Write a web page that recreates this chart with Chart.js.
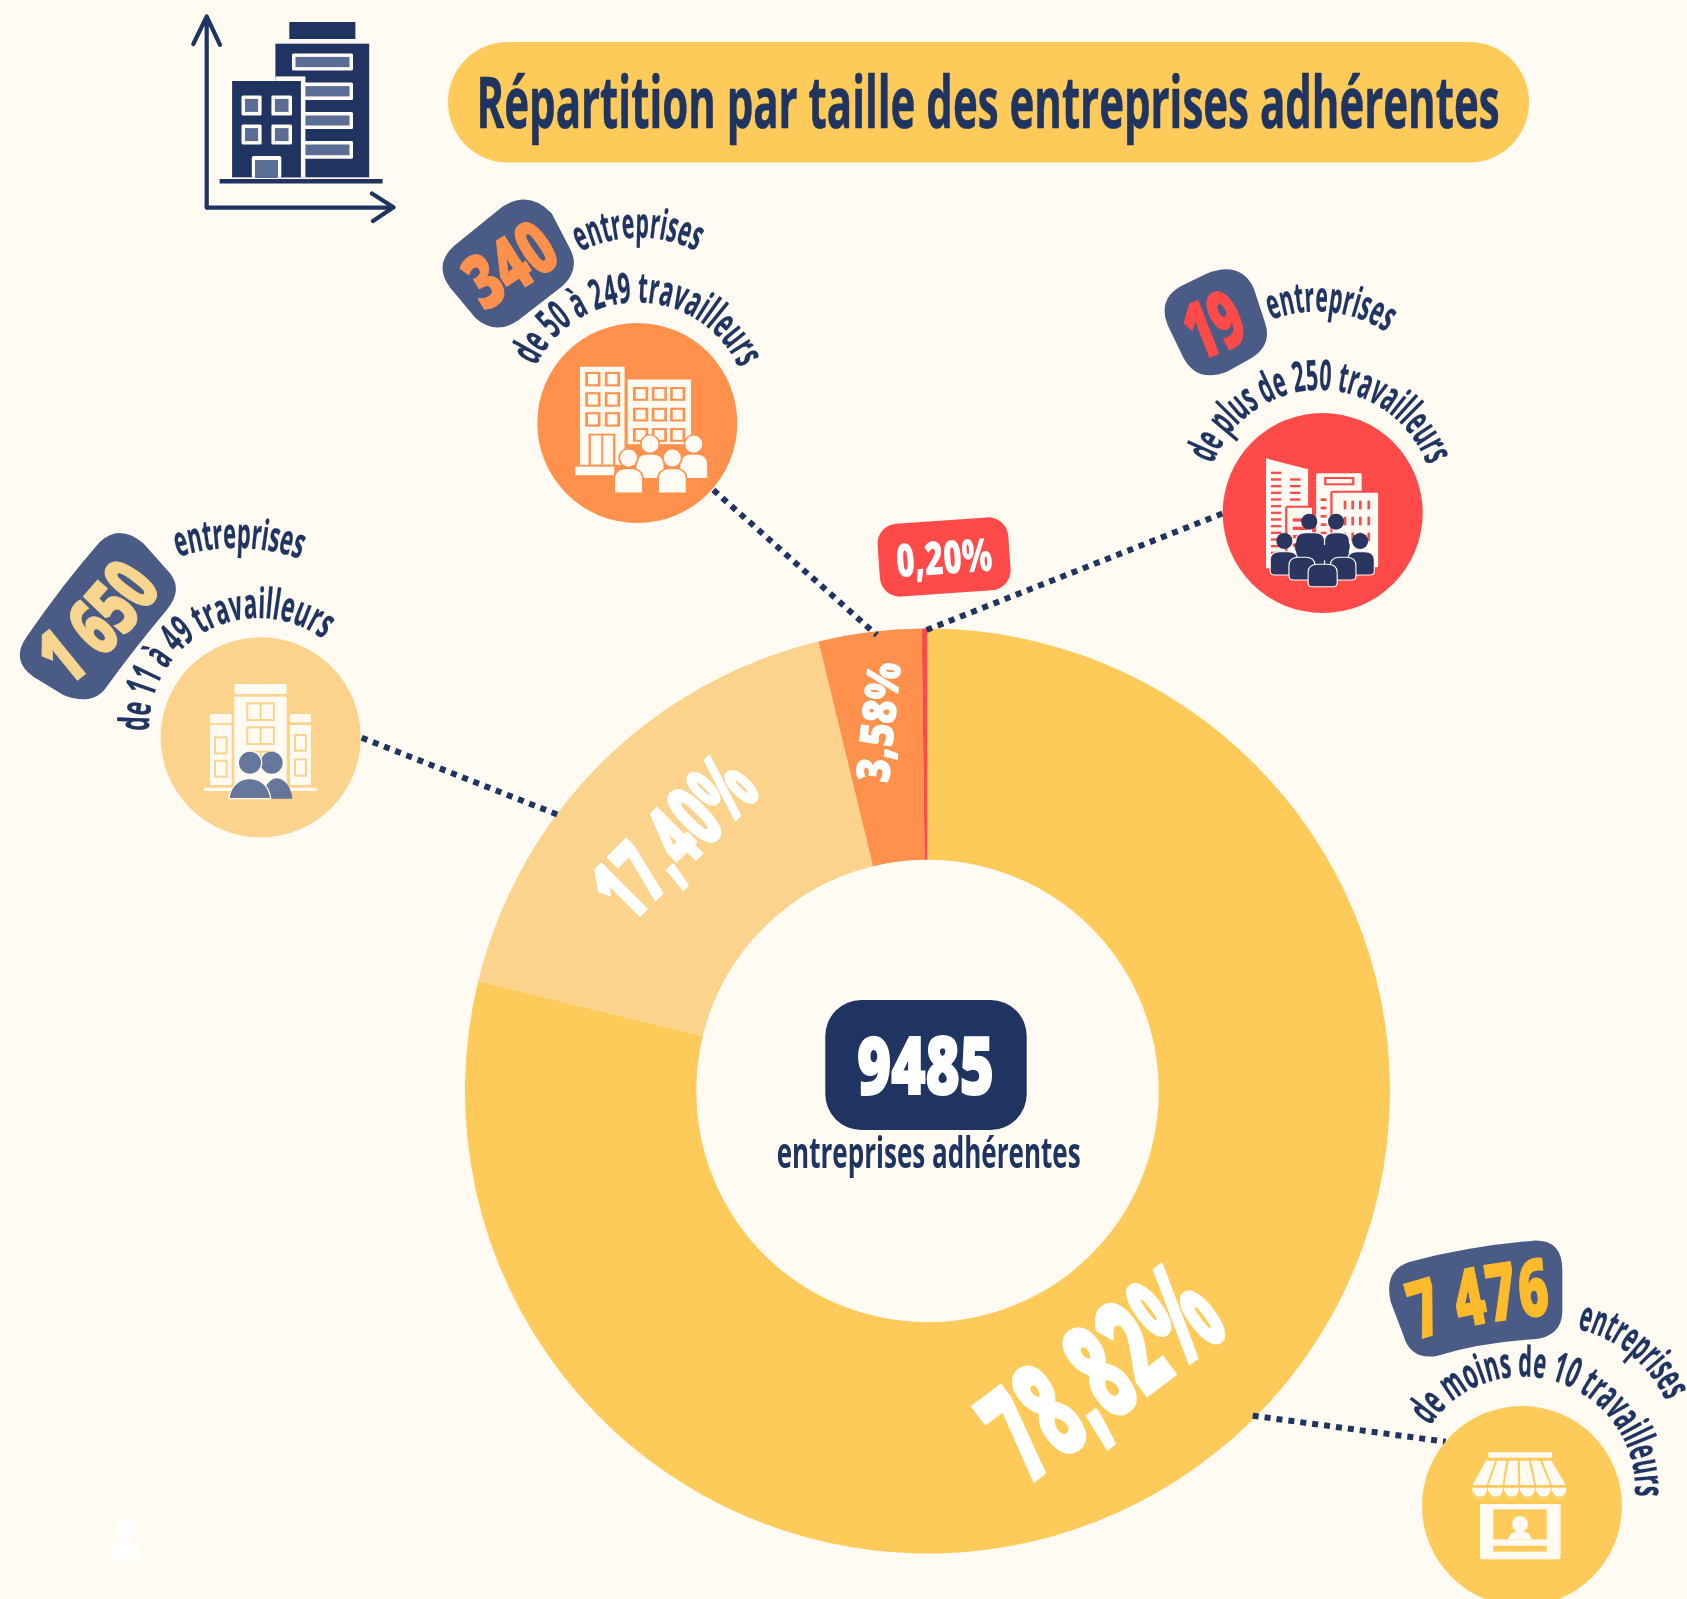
<!DOCTYPE html>
<html lang="fr">
<head>
<meta charset="utf-8">
<title>Répartition par taille des entreprises adhérentes</title>
<script src="https://cdn.jsdelivr.net/npm/chart.js@4/dist/chart.umd.min.js"></script>
<style>
html,body{margin:0;padding:0;background:#FFFAF2;}
#wrap{position:relative;width:1687px;height:1599px;overflow:hidden;background:#FFFAF2;}
canvas{position:absolute;left:0;top:0;}
#ov{position:absolute;left:0;top:0;}
text{font-family:"Open Sans","Noto Sans",sans-serif;}
</style>
</head>
<body>
<div id="wrap">
<canvas id="c" width="1687" height="1599"></canvas>
<svg id="ov" width="1687" height="1599" viewBox="0 0 1687 1599" xmlns="http://www.w3.org/2000/svg"></svg>
</div>
<script>
const categories = ['de moins de 10 travailleurs','de 11 à 49 travailleurs','de 50 à 249 travailleurs','de plus de 250 travailleurs'];
const companies = [7476,1650,340,19];
const shareLabels = ['78,82%','17,40%','3,58%','0,20%'];
const countLabels = ['7 476','1 650','340','19'];
const sliceColors = ['#FECB5A','#FBD38C','#FF914D','#FF4A4A'];
const countColors = ['#FDBB2B','#F8D58E','#FF914D','#FF4A4A'];
const titleText = 'Répartition par taille des entreprises adhérentes';
const totalText = '9485';
const totalCaption = 'entreprises adhérentes';
const unitWord = 'entreprises';

const NAVY='#1F3460', SLATE='#4A5B85', BG='#FFFAF2', WHITE='#FFFAF2';

const chart = new Chart(document.getElementById('c'),{
  type:'doughnut',
  data:{labels:categories,datasets:[{data:companies,backgroundColor:sliceColors,borderWidth:0}]},
  options:{responsive:false,animation:false,cutout:'50%',rotation:0,
    layout:{padding:{left:465,right:297,top:628.3,bottom:45.3}},
    plugins:{legend:{display:false},tooltip:{enabled:false},title:{display:false}}}
});

let out='',defs='',pid=0;
function arc3(a,b,c){
  const ax=a[0],ay=a[1],bx=b[0],by=b[1],cx=c[0],cy=c[1];
  const d=2*(ax*(by-cy)+bx*(cy-ay)+cx*(ay-by));
  const cross=(bx-ax)*(cy-ay)-(by-ay)*(cx-ax);
  const ux=((ax*ax+ay*ay)*(by-cy)+(bx*bx+by*by)*(cy-ay)+(cx*cx+cy*cy)*(ay-by))/d;
  const uy=((ax*ax+ay*ay)*(cx-bx)+(bx*bx+by*by)*(ax-cx)+(cx*cx+cy*cy)*(bx-ax))/d;
  const r=Math.hypot(ax-ux,ay-uy);
  let t1=Math.atan2(ay-uy,ax-ux),t3=Math.atan2(cy-uy,cx-ux);
  let sweep=cross>0?1:0;
  let ang=sweep?t3-t1:t1-t3; while(ang<0)ang+=2*Math.PI;
  return {d:`M${ax} ${ay} A${r} ${r} 0 ${ang>Math.PI?1:0} ${sweep} ${cx} ${cy}`,len:r*ang};
}
function curved(text,a,b,c,size,fill,weight,sw){
  const p=arc3(a,b,c),id='p'+(pid++);
  defs+=`<path id="${id}" d="${p.d}" fill="none"/>`;
  out+=`<text font-size="${size}" font-weight="${weight||700}" fill="${fill}" ${sw?`stroke="${fill}" stroke-width="${sw}"`:''}><textPath href="#${id}" textLength="${p.len}" lengthAdjust="spacingAndGlyphs">${text}</textPath></text>`;
}
function line(x1,y1,x2,y2,c,w,extra){out+=`<line x1="${x1}" y1="${y1}" x2="${x2}" y2="${y2}" stroke="${c}" stroke-width="${w}" ${extra||''}/>`;}
function dotted(x1,y1,x2,y2){line(x1,y1,x2,y2,NAVY,6,'stroke-dasharray="6 6"');}
function R(x1,y1,x2,y2,fill,opt){return `<rect x="${x1}" y="${y1}" width="${x2-x1}" height="${y2-y1}" fill="${fill}" ${opt||''}/>`;}
function OW(x1,y1,x2,y2,col,sw){return `<rect x="${x1}" y="${y1}" width="${x2-x1}" height="${y2-y1}" fill="none" stroke="${col}" stroke-width="${sw}"/>`;}
function G(tx,ty,sx,sy,inner){out+=`<g transform="translate(${tx} ${ty}) scale(${1/sx} ${1/sy})">${inner}</g>`;}
function circle(x,y,r,f){out+=`<circle cx="${x}" cy="${y}" r="${r}" fill="${f}"/>`;}

/* ---- top logo ---- */
out+=`<g fill="none" stroke="${NAVY}" stroke-width="4.2" stroke-linecap="round" stroke-linejoin="round">
<path d="M206.7 207.6V16.5M193.3 44L206.7 16.5L220 44.8"/><path d="M206.7 207.6H393.5M371.9 193.5L393.5 207.3L373 221"/></g>`;
{
 const W='#FFFAF2',B='#5A6D94';
 let s='';
 const win=(x1,y1,x2,y2)=>`<rect x="${x1}" y="${y1}" width="${x2-x1}" height="${y2-y1}" rx="1.5" fill="${W}"/><rect x="${x1+3.5}" y="${y1+3.5}" width="${x2-x1-7}" height="${y2-y1-7}" fill="${B}"/>`;
 s+=R(289.3,22,355.4,39,NAVY)+R(275.4,43.7,369.2,177.3,NAVY);
 s+=win(292,53.4,353,70.6)+win(300,82.6,353,99.9)+win(300,112,353,129)+win(300,141,353,158.7);
 s+=R(275.4,76.4,305.4,177.3,W)+R(232.1,81,300.9,177.3,NAVY);
 s+=win(241.5,95.4,261.6,115.4)+win(271.4,95.4,292,115.4)+win(241.5,124.6,261.6,144.6)+win(271.4,124.6,292,144.6);
 s+=`<rect x="251.8" y="156" width="29.5" height="22" rx="2" fill="${W}"/><rect x="255" y="160" width="23" height="18" fill="${B}"/>`;
 s+=R(219.6,179,382.6,183.5,NAVY);
 out+=s;
}
/* ---- title pill ---- */
out+=`<rect x="448" y="42" width="1081" height="120.5" rx="60" fill="#FECB5A"/>`;
out+=`<text x="476.6" y="128" font-size="72" font-weight="700" fill="${NAVY}" stroke="${NAVY}" stroke-width="0.7" textLength="1023" lengthAdjust="spacingAndGlyphs">${titleText}</text>`;

/* ---- leader lines ---- */
dotted(1252.7,1415.7,1445.7,1441.7);
dotted(926.5,630,1223,513.3);
dotted(713.4,490,876.8,635);
dotted(361.7,737.7,557.3,814.5);

/* ---- icon discs ---- */
circle(637.3,423,100,sliceColors[2]);
circle(1322.7,513,100,sliceColors[3]);
circle(260.7,737.3,100,sliceColors[1]);
circle(1522,1506,100,sliceColors[0]);

/* orange icon, drawn in crop coordinates */
{
 const O=sliceColors[2],W=WHITE;let s='';
 s+=R(963,1065,1063,1350,W);
 [[978,1083],[1022,1083],[978,1142],[1022,1142],[978,1200],[1022,1200]].forEach(p=>s+=OW(p[0],p[1],p[0]+28,p[1]+36,O,6));
 s+=OW(985,1262,1040,1352,O,5)+R(1011,1262,1015,1350,O);
 s+=R(1070,1102,1212,1290,W);
 [1085,1127,1168].forEach(x=>[1127,1187,1246].forEach(y=>s+=OW(x,y,x+28,y+34,O,6)));
 s+=R(953,1355,1040,1380,W);
 const person=(cx,hy,bt,bb)=>`<ellipse cx="${cx}" cy="${hy}" rx="21" ry="27" fill="${W}" stroke="${O}" stroke-width="4"/><path d="M${cx-32} ${bb}V${bt+30}Q${cx-32} ${bt} ${cx} ${bt}Q${cx+32} ${bt} ${cx+32} ${bt+30}V${bb}Z" fill="${W}" stroke="${O}" stroke-width="4"/>`;
 s+=person(1120,1290,1318,1390)+person(1218,1290,1318,1390)+person(1072,1330,1360,1432)+person(1170,1330,1360,1432);
 G(150,0,2.24,2.904,s);
}
/* red icon */
{
 const O=sliceColors[3],W=WHITE,N='#2A3560';let s='';
 s+=`<polygon points="1087,625 1197,658 1197,955 1087,955" fill="${W}"/>`;
 for(let y=665;y<=905;y+=20)s+=R(1100,y,1127,y+7,O);
 for(let y=685;y<=745;y+=20)s+=R(1150,y,1177,y+7,O);
 s+=`<rect x="1218" y="670" width="119" height="285" rx="4" fill="${W}"/>`+OW(1242,684,1315,703,O,6);
 for(let y=745;y<=925;y+=25)s+=R(1230,y,1245,y+8,O);
 s+=`<rect x="1258" y="725" width="125" height="230" rx="4" fill="${W}" stroke="${O}" stroke-width="6"/>`;
 [1290,1310,1330,1352].forEach(x=>[752,800,848].forEach(y=>s+=`<rect x="${x}" y="${y}" width="7" height="26" fill="${O}"/>`));
 s+=`<rect x="1140" y="770" width="70" height="185" rx="4" fill="${W}" stroke="${O}" stroke-width="6"/>`;
 for(let y=805;y<=900;y+=25)s+=R(1157,y,1195,y+10,O);
 const per=(cx,hy,x1,x2,t,b)=>`<ellipse cx="${cx}" cy="${hy}" rx="21" ry="24" fill="${N}"/><path d="M${x1} ${b-12}Q${x1} ${b} ${x1+12} ${b}H${x2-12}Q${x2} ${b} ${x2} ${b-12}V${t+25}Q${x2} ${t} ${x2-25} ${t}H${x1+25}Q${x1} ${t} ${x1} ${t+25}Z" fill="${N}" stroke="${W}" stroke-width="3"/>`;
 s+=per(1200,815,1165,1240,848,960)+per(1270,815,1240,1305,848,960);
 s+=per(1135,873,1098,1170,905,975)+per(1333,873,1300,1370,905,975);
 s+=per(1183,890,1147,1215,922,990)+per(1285,890,1255,1322,922,990);
 s+=per(1235,908,1197,1273,943,1010);
 G(850,250,2.613,3,s);
}
/* light icon */
{
 const O=sliceColors[1],W=WHITE,P='#5E7099';let s='';
 s+=`<rect x="703" y="522" width="157" height="30" rx="5" fill="${W}"/>`+R(703,560,860,825,W);
 [[742,580,822,630],[742,652,822,702],[742,725,822,772]].forEach(a=>{s+=OW(a[0],a[1],a[2],a[3],O,6)+R(779,a[1],785,a[3],O);});
 s+=`<rect x="630" y="612" width="65" height="28" rx="4" fill="${W}"/>`+R(630,645,695,825,W);
 s+=OW(645,682,680,730,O,6)+OW(645,752,680,800,O,6);
 s+=`<rect x="870" y="612" width="63" height="25" rx="4" fill="${W}"/>`+R(870,645,933,825,W);
 s+=OW(885,675,918,722,O,6)+OW(885,748,918,797,O,6);
 s+=R(612,833,950,843,W);
 s+=`<g opacity=".95"><circle cx="815" cy="758" r="33" fill="${P}"/><path d="M785 866C790 825 815 805 830 805C855 805 875 835 877 866Z" fill="${P}"/><circle cx="750" cy="758" r="35" fill="${P}" stroke="${W}" stroke-width="4"/><path d="M687 866C690 830 715 806 750 806C785 806 808 830 812 866Z" fill="${P}" stroke="${W}" stroke-width="4"/></g>`;
 G(0,510,3,3,s);
}
/* shop icon */
{
 const O=sliceColors[0],W=WHITE;let s='';
 s+=`<rect x="745" y="697" width="191" height="16" rx="3" fill="${W}"/>`;
 for(let i=0;i<6;i++){const t1=738+i*33.8,t2=t1+27,b1=698+i*47.6,b2=b1+42;s+=`<polygon points="${t1},722 ${t2},722 ${b2},795 ${b1},795" fill="${W}"/>`;
   s+=`<path d="M${b1-1} 803H${b2+1}V815A21 21 0 0 1 ${b1-1} 815Z" fill="${W}" />`;}
 s+=`<path d="M720 852H962V1010Q962 1018 954 1018H728Q720 1018 720 1010Z" fill="${W}"/>`;
 for(let i=0;i<6;i++){const b1=697+i*47.6;s+=`<path d="M${b1+1} 815A23 23 0 0 0 ${b1+45} 815" fill="none" stroke="${O}" stroke-width="5" transform="translate(0 1)"/>`;}
 s+=R(760,868,920,958,O)+R(760,977,920,995,O);
 s+=`<circle cx="840" cy="912" r="24" fill="${W}"/><path d="M805 958C808 938 825 934 840 934C855 934 872 938 875 958Z" fill="${W}"/>`;
 G(1240,1220,3,3,s);
}
/* ghost avatar bottom left */
circle(125.7,1529.3,10,'#FFFFFF');
out+=`<path d="M110.7 1559C110.7 1546 117 1540 125.7 1540C134.4 1540 140.7 1546 140.7 1559Z" fill="#FFFFFF"/>`;

/* ---- count badges ---- */
G(1240,1220,3,3,`<path d="M510 125Q690 78 880 62Q967 58 967 150L967 275Q965 350 880 358Q720 368 590 408Q510 420 490 345L452 245Q430 150 510 125Z" fill="${SLATE}"/>`);
G(0,510,3,3,`<path d="M300 95Q360 40 430 100L510 190Q550 240 500 300Q400 420 320 530Q280 590 190 555L100 500Q30 450 80 380Q190 220 300 95Z" fill="${SLATE}"/>`);
G(150,0,2.24,2.904,`<path d="M790 600Q850 550 900 620L940 720Q965 780 925 830L825 930Q775 975 730 925L672 835Q635 770 680 715Z" fill="${SLATE}"/>`);
G(850,250,2.613,3,`<path d="M880 100L930 72Q1020 30 1055 115L1085 220Q1105 290 1040 330L985 365Q905 400 870 320L830 225Q800 140 880 100Z" fill="${SLATE}"/>`);

curved(countLabels[0],[1417,1340],[1481,1324],[1551,1315],80,countColors[0],800,1);
curved(countLabels[1],[66,689],[115,646],[163,588],80,countColors[1],800,1);
curved(countLabels[2],[484,312],[528,285],[564,261],76,countColors[2],800,1);
curved(countLabels[3],[1197,362],[1225,351],[1252,338],80,countColors[3],800,1);

/* ---- curved captions ---- */
curved(unitWord,[1577,1329],[1633,1357],[1666,1401],42,NAVY,700,.3);
curved(categories[0],[1430,1426],[1523.3,1376.7],[1635,1496],42,NAVY,700,.3);
curved(unitWord,[178,557],[240,548],[300,559],42,NAVY,700,.3);
curved(categories[1],[149,731],[260,618],[323,639],42,NAVY,700,.3);
curved(unitWord,[580,252],[641,237.6],[696,251],42,NAVY,700,.3);
curved(categories[2],[536,366],[636.6,302.3],[739,368],42,NAVY,700,.3);
curved(unitWord,[1271,320],[1328,312],[1386,332],42,NAVY,700,.3);
curved(categories[3],[1213,464],[1320.7,390],[1427,465],42,NAVY,700,.3);

/* ---- centre badge ---- */
out+=`<rect x="825.3" y="1000" width="201.4" height="130" rx="36" fill="${NAVY}"/>`;
out+=`<text x="857" y="1094" font-size="80" font-weight="800" fill="#FFFFFF" stroke="#FFFFFF" stroke-width="2" textLength="137" lengthAdjust="spacingAndGlyphs">${totalText}</text>`;
out+=`<text x="776.7" y="1168" font-size="43" font-weight="700" fill="${NAVY}" textLength="304" lengthAdjust="spacingAndGlyphs">${totalCaption}</text>`;

/* ---- slice labels, anchored on the chart's own arcs ---- */
const sliceNudges=[{dx:-41,dy:6,rot:-37,size:135,len:255},{dx:-9,dy:-9,rot:-45,size:90,len:188},{dx:-6,dy:-25,rot:-84,size:46,len:120}];
const meta=chart.getDatasetMeta(0);
sliceNudges.forEach((n,i)=>{
  const a=meta.data[i],mid=(a.startAngle+a.endAngle)/2,rr=(a.innerRadius+a.outerRadius)/2;
  const x=a.x+Math.cos(mid)*rr+n.dx,y=a.y+Math.sin(mid)*rr+n.dy;
  out+=`<text transform="translate(${x} ${y}) rotate(${n.rot})" x="${-n.len/2}" y="${n.size*0.36}" font-size="${n.size}" font-weight="800" fill="#FFFFFF" stroke="#FFFFFF" stroke-width="${n.size/50}" textLength="${n.len}" lengthAdjust="spacingAndGlyphs">${shareLabels[i]}</text>`;
});
/* 0,20% tag */
out+=`<rect x="-65.5" y="-36.5" width="131" height="73" rx="20" fill="${sliceColors[3]}" transform="translate(944.1 557) rotate(-4)"/>`;
out+=`<text transform="translate(944 558) rotate(-4)" x="-48" y="16" font-size="46" font-weight="800" fill="#FFFFFF" textLength="96" lengthAdjust="spacingAndGlyphs">${shareLabels[3]}</text>`;

document.getElementById('ov').innerHTML=`<defs>${defs}</defs>`+out;
</script>
</body>
</html>
